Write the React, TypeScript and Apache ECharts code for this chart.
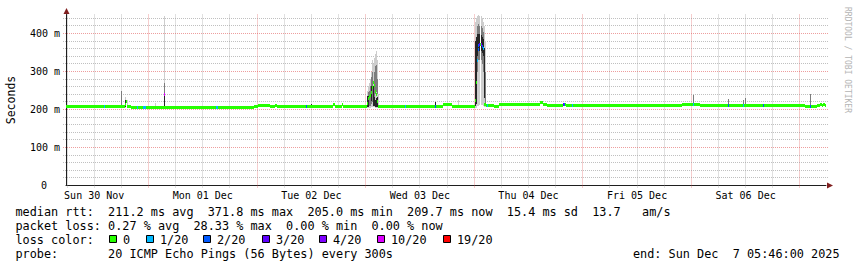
import React, { useEffect, useRef } from 'react';
import * as echarts from 'echarts';

// x values: hours since Sun 30 Nov 00:00
const START_H = 5 + 46 / 60;
const END_H = START_H + 168;
const SAMPLE_H = 168 / 760;

const dayLabelHours = [12, 36, 60, 84, 108, 132, 156];
const dayLabels = ['Sun 30 Nov', 'Mon 01 Dec', 'Tue 02 Dec', 'Wed 03 Dec', 'Thu 04 Dec', 'Fri 05 Dec', 'Sat 06 Dec'];
const majorGridHours = [24, 48, 72, 96, 120, 144, 168];
const minorGridHours = [6, 12, 18, 30, 36, 42, 54, 60, 66, 78, 84, 90, 102, 108, 114, 126, 132, 138, 150, 156, 162];

const yTickValues = [0, 100, 200, 300, 400];
const yMajorGrid = [100, 200, 300, 400];
const yMinorGrid = [20, 40, 60, 80, 120, 140, 160, 180, 220, 240, 260, 280, 320, 340, 360, 380, 420, 440];

// median rtt (ms): value holds from the given hour until the next one
const medianHours = [
  5.77, 18.7, 19.03, 19.3, 20.14, 27.32, 27.54, 47.3, 48.21, 50.86, 51.97, 52.41, 59.93, 64.79, 65.2, 66.78, 67.0,
  72.2, 72.42, 72.64, 72.87, 73.09, 73.31, 73.53, 73.75, 73.97, 74.19, 74.41, 74.63, 89.1, 91.09,
  96.07, 96.29, 96.51, 96.73, 96.95, 97.17, 97.4, 97.62, 97.84, 98.06, 98.28, 98.5, 100.4, 101.48,
  109.44, 110.55, 111.21, 112.09, 115.63, 116.29, 141.94, 145.91, 169.05, 171.72, 172.4, 172.8, 173.2, 173.5,
];
const medianValues = [
  209, 212, 222, 207, 205, 240, 205, 207, 210, 207, 211, 207, 208, 212, 208, 212, 208,
  215, 228, 233, 236, 245, 258, 271, 262, 248, 240, 222, 207, 214, 208,
  225, 272, 330, 358, 368, 372, 371, 366, 360, 213, 212, 210, 207, 212,
  214, 219, 214, 210, 212, 211, 214, 211, 208, 211, 213, 210, 213, 210,
];

// packet loss marks: hour, loss colour index
const lossHours = [14.17, 21.46, 22.68, 22.9, 23.12, 27.32, 39.0, 39.2, 58.82, 80.7, 87.34,
  96.51, 96.73, 96.95, 97.17, 97.4, 97.62, 97.84, 98.83, 115.63, 115.85, 117.62,
  144.37, 152.1, 155.42, 159.75, 170.15];
const lossLevels = [1, 1, 1, 1, 1, 5, 1, 1, 2, 1, 2,
  1, 2, 2, 3, 4, 2, 1, 1, 3, 2, 1,
  1, 2, 1, 2, 2];

// smoke columns: hour, light lo/hi, mid lo/hi, dark lo/hi (ms, 0 = none)
const smokeColumns = [
  [17.82, 0, 0, 209, 248, 0, 0],
  [18.7, 205, 232, 0, 0, 207, 224],
  [19.25, 205, 226, 0, 0, 0, 0],
  [19.92, 0, 0, 0, 0, 203, 212],
  [25.46, 205, 218, 0, 0, 0, 0],
  [27.32, 205, 447, 205, 271, 205, 240],
  [59.93, 0, 0, 0, 0, 207, 214],
  [87.34, 0, 0, 0, 0, 206, 221],
  [92.42, 207, 224, 0, 0, 0, 0],
  [144.37, 0, 0, 212, 238, 0, 0],
  [152.1, 0, 0, 211, 227, 0, 0],
  [155.42, 0, 0, 211, 226, 0, 0],
  [155.86, 0, 0, 211, 231, 0, 0],
  [170.15, 0, 0, 209, 240, 0, 0],
  [72.2, 205, 250, 0, 0, 206, 236],
  [72.42, 205, 262, 206, 245, 206, 236],
  [72.64, 205, 270, 208, 250, 0, 0],
  [72.87, 205, 280, 210, 262, 0, 0],
  [73.09, 206, 300, 215, 285, 222, 262],
  [73.31, 206, 330, 220, 300, 0, 0],
  [73.53, 206, 320, 0, 0, 208, 262],
  [73.75, 206, 335, 230, 300, 208, 232],
  [73.97, 205, 345, 240, 315, 206, 225],
  [74.19, 205, 353, 245, 318, 206, 230],
  [74.41, 205, 330, 240, 280, 206, 232],
  [74.63, 206, 240, 0, 0, 206, 212],
  [96.07, 205, 430, 0, 0, 210, 380],
  [96.29, 205, 440, 0, 0, 215, 390],
  [96.51, 208, 445, 300, 420, 340, 400],
  [96.73, 210, 448, 320, 425, 350, 405],
  [96.95, 210, 448, 330, 425, 355, 400],
  [97.17, 212, 445, 330, 420, 355, 398],
  [97.4, 212, 445, 330, 420, 355, 395],
  [97.62, 212, 440, 320, 415, 350, 392],
  [97.84, 210, 430, 300, 405, 340, 385],
  [98.06, 207, 420, 0, 0, 230, 363],
  [98.28, 206, 380, 210, 300, 0, 0],
];

const lossColors = ['#26ff00', '#00b8ff', '#0059ff', '#5e00ff', '#7e00ff', '#dd00ff', '#ff0000'];
const lossLabels = ['0', '1/20', '2/20', '3/20', '4/20', '10/20', '19/20'];

const rttStats = ['median rtt:', '211.2 ms avg', '371.8 ms max', '205.0 ms min', '209.7 ms now', '15.4 ms sd', '13.7', 'am/s'];
const rttCols = [0, 13, 27, 41, 55, 69, 81, 88];
const lossStats = ['packet loss:', '0.27 % avg', '28.33 % max', '0.00 % min', '0.00 % now'];
const lossCols = [0, 13, 25, 38, 50];
const probeText = ['probe:', '20 ICMP Echo Pings (56 Bytes) every 300s'];
const probeCols = [0, 13];
const endDate = ['end: Sun Dec', '7 05:46:00 2025'];
const endCols = [0, 14];

const MONO = '"DejaVu Sans Mono", monospace';
const CH = 7.12;
const LEG_FONT = 11.83;
const GRID_MINOR = 'rgba(150,150,150,0.6)';
const GRID_MAJOR = 'rgba(222,79,79,0.55)';
const SMOKE_LIGHT = '#cdcdcd';
const SMOKE_MID = '#7c7c7c';
const SMOKE_DARK = '#262626';

function medianAt(h: number): number {
  let v = medianValues[0];
  for (let i = 0; i < medianHours.length; i++) {
    if (medianHours[i] <= h + 1e-6) v = medianValues[i];
  }
  return v;
}

function buildOption() {
  const medianData = medianHours.map((h, i) => [h, medianValues[i], i + 1 < medianHours.length ? medianHours[i + 1] : END_H]);
  const lossData = lossHours.map((h, i) => [h, medianAt(h), lossLevels[i]]);
  const vGridData = majorGridHours.map((h) => [h, 0, 1]).concat(minorGridHours.map((h) => [h, 0, 0]));
  const hGridData = yMajorGrid.map((v) => [START_H, v, 1]).concat(yMinorGrid.map((v) => [START_H, v, 0]));

  const font = (size: number) => `${size}px ${MONO}`;
  const graphics: any[] = [];
  const addText = (x: number, y: number, text: string) =>
    graphics.push({ type: 'text', x, y, silent: true, style: { text, font: font(LEG_FONT), fill: '#000', align: 'left', verticalAlign: 'middle' } });

  const X0 = 15.5;
  const L1 = 211.5, L2 = 225.5, L3 = 239.5, L4 = 253.5;
  rttStats.forEach((t, i) => addText(X0 + rttCols[i] * CH, L1, t));
  lossStats.forEach((t, i) => addText(X0 + lossCols[i] * CH, L2, t));
  addText(X0, L3, 'loss color:');
  const swX = [109, 146, 203, 262, 319, 377, 443];
  swX.forEach((x, i) => {
    graphics.push({ type: 'rect', silent: true, shape: { x: x + 0.5, y: 235.5, width: 7, height: 7 }, style: { fill: lossColors[i], stroke: '#000', lineWidth: 1 } });
    addText(x + 14, L3, lossLabels[i]);
  });
  probeText.forEach((t, i) => addText(X0 + probeCols[i] * CH, L4, t));
  endDate.forEach((t, i) => addText(633 + endCols[i] * CH, L4, t));

  graphics.push({
    type: 'text', x: 847, y: 60, rotation: -Math.PI / 2, silent: true,
    style: { text: 'RRDTOOL / TOBI OETIKER', font: font(8), fill: '#b4b4b4', align: 'center', verticalAlign: 'middle' },
  });
  // axis arrows
  graphics.push({ type: 'polygon', silent: true, shape: { points: [[827, 182.5], [833, 185.5], [827, 188.5]] }, style: { fill: '#801f1f' } });
  graphics.push({ type: 'polygon', silent: true, shape: { points: [[63.5, 14], [66.5, 8], [69.5, 14]] }, style: { fill: '#801f1f' } });

  return {
    animation: false,
    backgroundColor: '#ffffff',
    grid: { left: 66, top: 14.5, width: 760, height: 171, containLabel: false, outerBoundsMode: 'none' },
    xAxis: {
      type: 'value', min: START_H, max: END_H,
      axisLine: { show: true, onZero: true, lineStyle: { color: '#1f1f1f', width: 1 } },
      axisTick: { show: false }, splitLine: { show: false },
      axisLabel: {
        customValues: dayLabelHours, showMinLabel: true, showMaxLabel: true,
        formatter: (v: number) => dayLabels[dayLabelHours.indexOf(v)] ?? '',
        fontFamily: MONO, fontSize: 10, color: '#000', margin: 5,
      },
    },
    yAxis: {
      type: 'value', min: 0, max: 450, interval: 100,
      name: 'Seconds', nameLocation: 'middle', nameGap: 49,
      nameTextStyle: { fontFamily: MONO, fontSize: 11.5, color: '#000' },
      axisLine: { show: true, lineStyle: { color: '#1f1f1f', width: 1 } },
      axisTick: { show: false }, splitLine: { show: false },
      axisLabel: {
        customValues: yTickValues,
        formatter: (v: number) => (v === 0 ? '{z|0}' : `${v} m`),
        fontFamily: MONO, fontSize: 10, color: '#000', margin: 6,
        rich: { z: { fontFamily: MONO, fontSize: 10, color: '#000', padding: [0, 13, 0, 0] } },
      },
    },
    series: [
      {
        type: 'custom', name: 'vgrid', silent: true, z: 1, data: vGridData,
        encode: { x: 0, y: 1 },
        renderItem: (_p: any, api: any) => {
          const h = api.value(0);
          const top = api.coord([h, 450]);
          const bot = api.coord([h, 0]);
          const x = Math.floor(top[0]) + 0.5;
          return { type: 'line', shape: { x1: x, y1: top[1], x2: x, y2: bot[1] + 2 }, style: { stroke: api.value(2) ? GRID_MAJOR : GRID_MINOR, lineWidth: 1, lineDash: [1, 1] } };
        },
      },
      {
        type: 'custom', name: 'hgrid', silent: true, z: 1, data: hGridData,
        encode: { x: 0, y: 1 },
        renderItem: (_p: any, api: any) => {
          const v = api.value(1);
          const l = api.coord([START_H, v]);
          const r = api.coord([END_H, v]);
          const y = Math.floor(l[1]) + 0.5;
          return { type: 'line', shape: { x1: l[0] - 3, y1: y, x2: r[0] + 3, y2: y }, style: { stroke: api.value(2) ? GRID_MAJOR : GRID_MINOR, lineWidth: 1, lineDash: [1, 1] } };
        },
      },
      {
        type: 'custom', name: 'smoke', silent: true, z: 2, data: smokeColumns,
        encode: { x: 0, y: [1, 2] },
        renderItem: (_p: any, api: any) => {
          const h = api.value(0);
          const children: any[] = [];
          const bands: [number, number, string][] = [
            [api.value(1), api.value(2), SMOKE_LIGHT],
            [api.value(3), api.value(4), SMOKE_MID],
            [api.value(5), api.value(6), SMOKE_DARK],
          ];
          bands.forEach(([lo, hi, c]) => {
            if (!hi) return;
            const a = api.coord([h, hi]);
            const b = api.coord([h + SAMPLE_H, lo]);
            const x0 = Math.round(a[0]);
            const x1 = Math.max(x0 + 1, Math.round(b[0]));
            const y0 = Math.round(a[1]);
            const y1 = Math.max(y0 + 1, Math.round(b[1]));
            children.push({ type: 'rect', shape: { x: x0, y: y0, width: x1 - x0, height: y1 - y0 }, style: { fill: c } });
          });
          return { type: 'group', children };
        },
      },
      {
        type: 'custom', name: 'median', silent: true, z: 3, data: medianData,
        encode: { x: [0, 2], y: 1 },
        renderItem: (_p: any, api: any) => {
          const a = api.coord([api.value(0), api.value(1)]);
          const b = api.coord([api.value(2), api.value(1)]);
          const x0 = Math.round(a[0]);
          const x1 = Math.max(x0 + 1, Math.round(b[0]));
          const y0 = Math.round(a[1] - 1.5);
          return { type: 'rect', shape: { x: x0, y: y0, width: x1 - x0, height: 3 }, style: { fill: lossColors[0] } };
        },
      },
      {
        type: 'custom', name: 'loss', silent: true, z: 4, data: lossData,
        encode: { x: 0, y: 1 },
        renderItem: (_p: any, api: any) => {
          const a = api.coord([api.value(0), api.value(1)]);
          const b = api.coord([api.value(0) + SAMPLE_H, api.value(1)]);
          const x0 = Math.round(a[0]);
          const x1 = Math.max(x0 + 1, Math.round(b[0]));
          const y0 = Math.round(a[1] - 1.5);
          return { type: 'rect', shape: { x: x0, y: y0, width: x1 - x0, height: 3 }, style: { fill: lossColors[api.value(2)] } };
        },
      },
    ],
    graphic: graphics,
  };
}

export default function App() {
  const ref = useRef<HTMLDivElement>(null);
  useEffect(() => {
    if (!ref.current) return;
    const chart = echarts.init(ref.current, null, { renderer: 'svg' });
    chart.setOption(buildOption() as any);
    return () => chart.dispose();
  }, []);
  return <div ref={ref} style={{ position: 'absolute', left: 0, top: 0, width: 857, height: 267, background: '#fff' }} />;
}
